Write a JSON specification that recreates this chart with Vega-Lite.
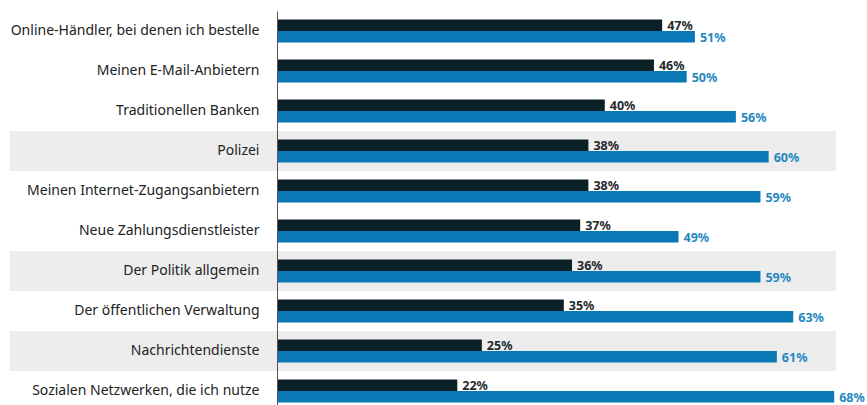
{
  "$schema": "https://vega.github.io/schema/vega-lite/v6.json",
  "width": 590,
  "height": 394,
  "autosize": {"type": "none"},
  "padding": {"left": 277, "top": 11, "right": 0, "bottom": 0},
  "background": "white",
  "config": {"view": {"stroke": null}, "font": "Noto Sans"},
  "data": {
    "values": [
      {"cat": "Online-Händler, bei denen ich bestelle", "serie": "A", "value": 0.47},
      {"cat": "Online-Händler, bei denen ich bestelle", "serie": "B", "value": 0.51},
      {"cat": "Meinen E-Mail-Anbietern", "serie": "A", "value": 0.46},
      {"cat": "Meinen E-Mail-Anbietern", "serie": "B", "value": 0.50},
      {"cat": "Traditionellen Banken", "serie": "A", "value": 0.40},
      {"cat": "Traditionellen Banken", "serie": "B", "value": 0.56},
      {"cat": "Polizei", "serie": "A", "value": 0.38},
      {"cat": "Polizei", "serie": "B", "value": 0.60},
      {"cat": "Meinen Internet-Zugangsanbietern", "serie": "A", "value": 0.38},
      {"cat": "Meinen Internet-Zugangsanbietern", "serie": "B", "value": 0.59},
      {"cat": "Neue Zahlungsdienstleister", "serie": "A", "value": 0.37},
      {"cat": "Neue Zahlungsdienstleister", "serie": "B", "value": 0.49},
      {"cat": "Der Politik allgemein", "serie": "A", "value": 0.36},
      {"cat": "Der Politik allgemein", "serie": "B", "value": 0.59},
      {"cat": "Der öffentlichen Verwaltung", "serie": "A", "value": 0.35},
      {"cat": "Der öffentlichen Verwaltung", "serie": "B", "value": 0.63},
      {"cat": "Nachrichtendienste", "serie": "A", "value": 0.25},
      {"cat": "Nachrichtendienste", "serie": "B", "value": 0.61},
      {"cat": "Sozialen Netzwerken, die ich nutze", "serie": "A", "value": 0.22},
      {"cat": "Sozialen Netzwerken, die ich nutze", "serie": "B", "value": 0.68}
    ]
  },
  "encoding": {
    "y": {
      "field": "cat",
      "type": "nominal",
      "sort": [
        "Online-Händler, bei denen ich bestelle",
        "Meinen E-Mail-Anbietern",
        "Traditionellen Banken",
        "Polizei",
        "Meinen Internet-Zugangsanbietern",
        "Neue Zahlungsdienstleister",
        "Der Politik allgemein",
        "Der öffentlichen Verwaltung",
        "Nachrichtendienste",
        "Sozialen Netzwerken, die ich nutze"
      ],
      "scale": {"paddingInner": 0, "paddingOuter": 0, "range": [0, 400]},
      "axis": {
        "title": null,
        "ticks": false,
        "labelPadding": 18,
        "labelFontSize": 14,
        "labelColor": "#222222",
        "labelLimit": 300,
        "domainColor": "#555555",
        "domainWidth": 1,
        "zindex": 1
      }
    }
  },
  "resolve": {"scale": {"color": "independent"}},
  "layer": [
    {
      "transform": [
        {"filter": {"field": "serie", "equal": "A"}},
        {"filter": {"field": "cat", "oneOf": ["Polizei", "Der Politik allgemein", "Nachrichtendienste"]}}
      ],
      "mark": {"type": "rect", "color": "#ededed"},
      "encoding": {
        "x": {"datum": -0.326, "type": "quantitative", "scale": {"domain": [0, 0.72], "nice": false, "zero": false}, "axis": null},
        "x2": {"datum": 0.682}
      }
    },
    {
      "mark": {"type": "bar"},
      "encoding": {
        "x": {"field": "value", "type": "quantitative", "axis": null},
        "yOffset": {"field": "serie", "scale": {"paddingOuter": 0.74, "paddingInner": 0}},
        "color": {"field": "serie", "type": "nominal", "scale": {"range": ["#0c2028", "#0a78b4"]}, "legend": null}
      }
    },
    {
      "mark": {"type": "text", "align": "left", "baseline": "middle", "dx": 5, "dy": 1, "fontWeight": "bold", "fontSize": 12.5},
      "encoding": {
        "x": {"field": "value", "type": "quantitative", "axis": null},
        "yOffset": {"field": "serie", "scale": {"paddingOuter": 0.74, "paddingInner": 0}},
        "text": {"field": "value", "type": "quantitative", "format": ".0%"},
        "color": {"field": "serie", "type": "nominal", "scale": {"range": ["#1e2a30", "#1f88c2"]}, "legend": null}
      }
    }
  ]
}
